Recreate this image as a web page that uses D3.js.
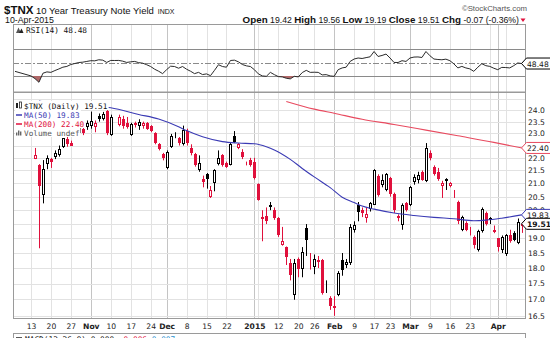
<!DOCTYPE html>
<html><head><meta charset="utf-8">
<script src="https://cdn.jsdelivr.net/npm/d3@7"></script>
<style>body{margin:0;background:#fff}svg{display:block}</style>
</head><body><svg id="c" width="550" height="338"></svg>
<script>
// ---------- DATA ----------
const days = [
"2014-10-07","2014-10-08","2014-10-09","2014-10-10","2014-10-13","2014-10-14","2014-10-15","2014-10-16","2014-10-17",
"2014-10-20","2014-10-21","2014-10-22","2014-10-23","2014-10-24","2014-10-27","2014-10-28","2014-10-29","2014-10-30","2014-10-31",
"2014-11-03","2014-11-04","2014-11-05","2014-11-06","2014-11-07","2014-11-10","2014-11-11","2014-11-12","2014-11-13","2014-11-14",
"2014-11-17","2014-11-18","2014-11-19","2014-11-20","2014-11-21","2014-11-24","2014-11-25","2014-11-26","2014-11-28",
"2014-12-01","2014-12-02","2014-12-03","2014-12-04","2014-12-05","2014-12-08","2014-12-09","2014-12-10","2014-12-11","2014-12-12",
"2014-12-15","2014-12-16","2014-12-17","2014-12-18","2014-12-19","2014-12-22","2014-12-23","2014-12-24","2014-12-26",
"2014-12-29","2014-12-30","2014-12-31","2015-01-02","2015-01-05","2015-01-06","2015-01-07","2015-01-08","2015-01-09",
"2015-01-12","2015-01-13","2015-01-14","2015-01-15","2015-01-16","2015-01-20","2015-01-21","2015-01-22","2015-01-23",
"2015-01-26","2015-01-27","2015-01-28","2015-01-29","2015-01-30","2015-02-02","2015-02-03","2015-02-04","2015-02-05","2015-02-06",
"2015-02-09","2015-02-10","2015-02-11","2015-02-12","2015-02-13","2015-02-17","2015-02-18","2015-02-19","2015-02-20",
"2015-02-23","2015-02-24","2015-02-25","2015-02-26","2015-02-27","2015-03-02","2015-03-03","2015-03-04","2015-03-05","2015-03-06",
"2015-03-09","2015-03-10","2015-03-11","2015-03-12","2015-03-13","2015-03-16","2015-03-17","2015-03-18","2015-03-19","2015-03-20",
"2015-03-23","2015-03-24","2015-03-25","2015-03-26","2015-03-27","2015-03-30","2015-03-31","2015-04-01","2015-04-02",
"2015-04-06","2015-04-07","2015-04-08","2015-04-09","2015-04-10"];

const candleStart = "2014-10-14";
const priorClose = 22.8;
const open = [21.95,21.7,20.56,21.74,21.95,22.05,22.1,22.45,22.75,22.62,
22.93,23.0,23.2,23.28, 23.3,23.25,23.75,23.6,23.95, 22.95,23.72,23.35,23.6,23.45,
22.95,23.42,23.3,23.3,23.42, 23.3,23.0,22.55,22.15, 21.6,22.45,22.88,22.8,22.55,
23.1,22.4,22.15,21.5,21.15, 21.35,20.5,21.0,21.75,22.1, 21.8,21.7,22.9,22.4,
22.25,21.85,21.9, 21.85, 20.98,19.75,19.78,20.1,20.0, 19.7,18.78,18.7,18.15,17.14,
18.3,17.98,19.35,18.3, 18.05,18.2,18.27,17.47,17.05, 16.8,17.14,18.25,18.1,18.15,
19.3,20.2,20.0,19.72,20.05, 20.2,21.3,20.95,20.75, 21.2,20.6,19.8,19.47,20.25,
20.2,21.05,21.12,21.45,21.1, 22.2,21.65,21.45,20.9,21.1, 20.9,20.55,20.3,19.3,19.55,
19.3,19.05,18.6,19.25,19.88, 19.7,19.3, 19.0,18.6, 18.45,19.1,19.2,18.85,19.42];
const high = [22.4,21.75,21.91,22.1,22.0,22.3,22.5,22.8,22.85,22.7,
23.25,23.64,23.35,23.55, 23.93,23.55,23.85,23.92,24.0, 23.8,23.72,23.8,23.75,23.7,
23.45,23.5,23.6,23.5,23.48, 23.35,23.05,22.6,22.2, 22.3,22.98,23.05,22.85,23.33,
23.2,22.55,22.2,22.1,21.3, 21.4,20.9,21.55,22.3,22.15, 21.85,22.6,23.1,22.6,
22.35,21.85,22.0, 22.0, 21.0,20.0,20.1,20.3,20.1, 19.75,19.4,18.72,18.3,18.3,
18.35,18.7,19.5,18.5, 18.45,18.4,18.3,17.6,17.1, 17.1,17.9,18.5,18.3,19.5,
19.6,20.3,20.1,20.1,20.3, 21.55,21.35,21.35,21.4, 21.25,20.65,19.85,20.25,20.3,
20.9,21.35,21.45,21.5,22.6, 22.3,21.7,21.6,21.1,21.2, 21.05,20.75,20.35,19.8,19.6,
19.4,19.1,19.3,20.1,19.95, 19.75,19.45, 19.0,19.1, 19.15,19.3,19.25,19.7,19.56];
const low = [21.95,18.66,20.25,21.55,21.6,21.95,22.05,22.4,22.45,22.5,
22.9,22.93,22.93,23.15, 23.2,23.05,23.5,23.55,22.93, 22.9,23.72,23.3,23.2,23.2,
22.9,23.25,23.15,23.2,23.15, 23.05,22.55,22.3,21.9, 21.55,22.4,22.8,22.5,22.5,
22.5,22.1,21.65,21.45,20.85, 20.8,20.45,20.7,21.7,21.65, 21.6,21.7,22.6,22.35,
21.95,21.7,21.65, 21.15, 20.35,18.9,19.5,20.0,19.65, 19.05,18.75,18.1,17.6,16.99,
17.7,17.7,18.4,17.95, 17.8,18.0,17.15,17.2,16.68, 16.5,17.1,17.75,18.0,18.1,
19.2,19.6,19.75,19.55,19.95, 20.2,20.5,20.85,20.7, 20.5,19.9,19.6,19.3,19.95,
20.15,20.95,21.0,21.1,21.05, 21.9,21.3,21.1,20.45,20.75, 20.85,20.45,19.5,19.25,19.25,
19.1,18.65,18.55,19.2,19.45, 19.5,19.18, 18.55,18.5, 18.4,18.85,18.9,18.8,19.19];
const close = [22.1,20.91,21.55,22.0,21.85,22.18,22.35,22.79,22.55,22.5,
23.21,23.28,23.02,23.42, 23.53,23.45,23.6,23.85,23.0, 23.72,23.72,23.68,23.3,23.25,
23.4,23.35,23.5,23.42,23.2, 23.1,22.6,22.35,21.98, 22.25,22.9,22.95,22.6,23.15,
22.6,22.2,21.7,21.78,21.05, 21.15,20.75,21.5,22.0,21.7, 21.65,22.55,22.65,22.55,
22.05,21.8,21.7, 21.2, 20.37,19.68,19.6,20.2,19.7, 19.1,18.92,18.37,17.78,18.15,
17.98,18.55,18.95,18.25, 18.3,18.28,17.2,17.52,16.8, 16.75,17.83,17.95,18.2,19.4,
19.47,19.93,19.88,19.85,20.25, 21.5,20.56,21.13,21.35, 20.6,20.0,19.7,20.2,20.0,
20.87,21.25,21.32,21.12,22.4, 21.98,21.35,21.15,21.0,21.15, 21.0,20.6,19.6,19.75,19.3,
19.25,18.77,19.25,20.05,19.5, 19.65,19.22, 18.7,19.05, 19.12,18.9,18.95,19.58,19.51];

const ma50Dates = ["2014-10-15","2014-10-17","2014-11-10","2014-11-19","2014-11-26","2014-12-04","2014-12-08","2014-12-12","2014-12-19","2014-12-26","2015-01-02","2015-01-07","2015-01-09","2015-01-15","2015-01-21","2015-01-26","2015-01-30","2015-02-04","2015-02-09","2015-02-11","2015-02-17","2015-02-24","2015-03-03","2015-03-10","2015-03-17","2015-03-24","2015-03-27","2015-04-02","2015-04-10"];
const ma50Values = [24.40,24.34,24.10,23.81,23.61,23.28,23.12,22.86,22.66,22.60,22.57,22.45,22.32,21.94,21.58,21.25,20.84,20.48,20.28,20.15,20.04,19.90,19.81,19.74,19.69,19.62,19.64,19.71,19.83];
const ma200Dates = ["2015-01-14","2015-01-26","2015-02-02","2015-02-11","2015-02-24","2015-03-06","2015-03-18","2015-03-31","2015-04-10"];
const ma200Values = [24.38,24.04,23.86,23.60,23.38,23.14,22.90,22.63,22.40];

const rsiDates = ["2014-10-07","2014-10-13","2014-10-14","2014-10-15","2014-10-16","2014-10-17","2014-10-20","2014-10-21","2014-10-22","2014-10-23","2014-10-24","2014-10-27","2014-10-28","2014-10-29","2014-10-30","2014-10-31",
"2014-11-03","2014-11-04","2014-11-05","2014-11-06","2014-11-07","2014-11-10","2014-11-11","2014-11-12","2014-11-13","2014-11-14","2014-11-17","2014-11-18","2014-11-19","2014-11-20","2014-11-21","2014-11-24","2014-11-25","2014-11-26","2014-11-28",
"2014-12-01","2014-12-02","2014-12-03","2014-12-04","2014-12-05","2014-12-08","2014-12-09","2014-12-10","2014-12-11","2014-12-12","2014-12-15","2014-12-16","2014-12-17","2014-12-18","2014-12-19","2014-12-22","2014-12-23","2014-12-24","2014-12-26","2014-12-29","2014-12-30","2014-12-31",
"2015-01-02","2015-01-05","2015-01-06","2015-01-07","2015-01-08","2015-01-09","2015-01-12","2015-01-13","2015-01-14","2015-01-15","2015-01-16","2015-01-20","2015-01-21","2015-01-22","2015-01-23","2015-01-26","2015-01-27","2015-01-28","2015-01-29","2015-01-30",
"2015-02-02","2015-02-03","2015-02-04","2015-02-05","2015-02-06","2015-02-09","2015-02-10","2015-02-11","2015-02-12","2015-02-13","2015-02-17","2015-02-18","2015-02-19","2015-02-20","2015-02-23","2015-02-24","2015-02-25","2015-02-26","2015-02-27",
"2015-03-02","2015-03-03","2015-03-04","2015-03-05","2015-03-06","2015-03-09","2015-03-10","2015-03-11","2015-03-12","2015-03-13","2015-03-16","2015-03-17","2015-03-18","2015-03-19","2015-03-20","2015-03-23","2015-03-24","2015-03-25","2015-03-26","2015-03-27","2015-03-30","2015-03-31",
"2015-04-01","2015-04-02","2015-04-06","2015-04-07","2015-04-08","2015-04-09","2015-04-10"];
const rsiValues = [36.8,30,26,20.5,34,36,35.3,38,40.4,43,44.2,47,48.5,50,50.5,51.6,
52.7,52.5,54.1,53.5,50.1,53.1,53,53.1,52,50.1,51,51.6,49.8,49,46.7,44,40,37,33.4,
39.3,44.5,44,41.5,44,40,37,33.4,35.3,32,33,30.4,38.3,46.7,44,43,53,53.5,51,47,45,44,
39.3,33,30,29.4,35.3,31.9,29,28.5,26.5,25.6,29.4,28.5,35,38.3,35.3,35.5,35.3,31.5,31.9,30,
29.4,39.3,41.9,43,51.6,55.2,56.7,56,57.3,58.5,66.4,59,60.5,62.6,56.7,50.1,50,52.7,51.6,
56.7,58.1,58.3,57.5,66.4,60.1,55.2,54.5,54.1,55,52.7,48,41.9,44.2,41.9,40.5,36.8,43,48.2,45.3,44.2,41.5,
39.3,42.7,42.5,41.9,45.3,49.3,48.48];

const priceTicks = [24.0,23.5,23.0,22.5,22.0,21.5,21.0,20.5,20.0,19.5,19.0,18.5,18.0,17.5,17.0,16.5];
const priceGrid = [24.5,24.0,23.5,23.0,22.5,22.0,21.5,21.0,20.5,20.0,19.5,19.0,18.5,18.0,17.5,17.0,16.5];
const rsiTicks = [90,70,30,10];
const xTickDates = ["2014-10-13","2014-10-20","2014-10-27","2014-11-03","2014-11-10","2014-11-17","2014-11-24","2014-12-01","2014-12-08","2014-12-15","2014-12-22","2015-01-02","2015-01-12","2015-01-20","2015-01-26","2015-02-02","2015-02-09","2015-02-17","2015-02-23","2015-03-02","2015-03-09","2015-03-16","2015-03-23","2015-04-01"];
const xTickLabels = ["13","20","27","Nov","10","17","24","Dec","8","15","22","2015","12","20","26","Feb","9","17","23","Mar","9","16","23","Apr"];
const monthDates = ["2014-11-03","2014-12-01","2015-01-02","2015-02-02","2015-03-02","2015-04-01"];
const extraGridDates = ["2015-01-05","2015-03-30","2015-04-06"];

// ---------- LAYOUT ----------
const svg = d3.select("#c");
const L = 13, R = 526;
const rsiTop = 24.5, rsiBot = 92, mainTop = 92.5, mainBot = 318.5;
const RED = "#e0103c", BLUE = "#3a3ab4", MARED = "#e84a5f";
const x = d3.scalePoint().domain(days).range([15, 521.7]);
const y = d3.scaleLog().domain([16.42, 24.78]).range([mainBot, mainTop]);
const yR = d3.scaleLinear().domain([6, 106.7]).range([rsiBot, rsiTop]);
const px = v => Math.round(v) + 0.5;

svg.append("rect").attr("width",550).attr("height",338).attr("fill","#fff");

const defs = svg.append("defs");
defs.append("clipPath").attr("id","cm").append("rect").attr("x",L).attr("y",mainTop).attr("width",R-L).attr("height",mainBot-mainTop);
defs.append("clipPath").attr("id","cr").append("rect").attr("x",L).attr("y",rsiTop).attr("width",R-L).attr("height",rsiBot-rsiTop);
defs.append("clipPath").attr("id","cr30").append("rect").attr("x",L).attr("y",yR(30)).attr("width",R-L).attr("height",rsiBot-yR(30));
defs.append("clipPath").attr("id","crl").append("rect").attr("x",R).attr("y",rsiTop).attr("width",30).attr("height",rsiBot-rsiTop+0.5);

// ---------- GRID ----------
const gridAll = xTickDates.concat(extraGridDates);
function vgrid(top, bot){
  svg.append("g").selectAll("line").data(gridAll).join("line")
    .attr("x1",d=>px(x(d))).attr("x2",d=>px(x(d))).attr("y1",top).attr("y2",bot)
    .attr("stroke",d=>monthDates.includes(d)?"#c4c4c4":"#e2e2e2").attr("stroke-width",1);
}
vgrid(rsiTop, rsiBot); vgrid(mainTop, mainBot);
svg.append("g").selectAll("line").data(priceGrid).join("line")
  .attr("x1",L).attr("x2",R).attr("y1",d=>px(y(d))).attr("y2",d=>px(y(d)))
  .attr("stroke","#e2e2e2");
[70,30].forEach(v=>svg.append("line").attr("x1",L).attr("x2",R).attr("y1",px(yR(v))).attr("y2",px(yR(v))).attr("stroke","#8a8a8a"));
svg.append("line").attr("x1",L).attr("x2",R).attr("y1",px(yR(50))).attr("y2",px(yR(50)))
  .attr("stroke","#8a8a8a").attr("stroke-dasharray","6,2,2,2");

// ---------- RSI ----------
const rsiPts = rsiDates.map((d,i)=>({d, v:rsiValues[i]}));
svg.append("path").datum(rsiPts).attr("clip-path","url(#cr30)")
  .attr("d", d3.area().x(p=>x(p.d)).y0(yR(30)).y1(p=>yR(p.v)))
  .attr("fill","#b06868");
svg.append("path").datum(rsiPts).attr("clip-path","url(#cr)")
  .attr("d", d3.line().x(p=>x(p.d)).y(p=>yR(p.v)))
  .attr("fill","none").attr("stroke","#2a2a2a").attr("stroke-width",1);

// ---------- CANDLES ----------
const cDays = days.slice(days.indexOf(candleStart));
const candles = cDays.map((d,i)=>({d,o:open[i],h:high[i],l:low[i],c:close[i],pc:i?close[i-1]:priorClose}));
const cg = svg.append("g").attr("clip-path","url(#cm)");
candles.forEach(k=>{
  const col = k.c < k.pc ? RED : "#000";
  const hollow = k.c >= k.o;
  const cx = px(x(k.d));
  cg.append("line").attr("x1",cx).attr("x2",cx).attr("y1",y(k.h)).attr("y2",y(k.l)).attr("stroke",col);
  const top = Math.round(y(Math.max(k.o,k.c))), bot = Math.round(y(Math.min(k.o,k.c)));
  cg.append("rect").attr("x",cx-1).attr("y",top+0.5).attr("width",2).attr("height",Math.max(0,bot-top-1))
    .attr("fill",hollow?"#fff":col).attr("stroke",col);
});

// ---------- MOVING AVERAGES ----------
const line = d3.line().x(p=>x(p.d)).y(p=>y(p.v)).curve(d3.curveMonotoneX);
svg.append("path").datum(ma200Dates.map((d,i)=>({d,v:ma200Values[i]}))).attr("clip-path","url(#cm)")
  .attr("d",line).attr("fill","none").attr("stroke",MARED).attr("stroke-width",1.1);
svg.append("path").datum(ma50Dates.map((d,i)=>({d,v:ma50Values[i]}))).attr("clip-path","url(#cm)")
  .attr("d",line).attr("fill","none").attr("stroke",BLUE).attr("stroke-width",1.1);

// ---------- PANEL BORDERS ----------
svg.append("rect").attr("x",L+0.5).attr("y",rsiTop).attr("width",R-L-1).attr("height",rsiBot-rsiTop).attr("fill","none").attr("stroke","#9a9a9a");
svg.append("rect").attr("x",L+0.5).attr("y",mainTop).attr("width",R-L-1).attr("height",mainBot-mainTop).attr("fill","none").attr("stroke","#9a9a9a");
svg.append("line").attr("x1",L).attr("x2",R).attr("y1",333.5).attr("y2",333.5).attr("stroke","#9a9a9a");
svg.append("line").attr("x1",L+0.5).attr("x2",L+0.5).attr("y1",333.5).attr("y2",338).attr("stroke","#9a9a9a");
svg.append("line").attr("x1",R-0.5).attr("x2",R-0.5).attr("y1",333.5).attr("y2",338).attr("stroke","#9a9a9a");

// ---------- AXES ----------
const axFont = "'DejaVu Sans', Verdana, sans-serif";
const yAx = svg.append("g").attr("transform",`translate(${R+1},0)`)
  .call(d3.axisRight(y).tickValues(priceTicks).tickFormat(d3.format(".1f")).tickSize(0).tickPadding(1));
yAx.select(".domain").remove();
yAx.selectAll("text").attr("font-family",axFont).attr("font-size",7.6).attr("fill","#222");
const rAx = svg.append("g").attr("transform",`translate(${R+1},0)`).attr("clip-path","url(#crl)")
  .call(d3.axisRight(yR).tickValues(rsiTicks).tickSize(0).tickPadding(1));
rAx.select(".domain").remove();
rAx.selectAll("text").attr("font-family",axFont).attr("font-size",7.6).attr("fill","#222");
const xAx = svg.append("g").attr("transform",`translate(0,${mainBot})`)
  .call(d3.axisBottom(x).tickValues(xTickDates).tickFormat((d,i)=>xTickLabels[i]).tickSize(0).tickPadding(5));
xAx.select(".domain").remove();
xAx.selectAll("text").attr("font-family",axFont).attr("font-size",7.6).attr("fill","#222")
  .attr("font-weight",d=>monthDates.includes(d)?"bold":"normal");

// ---------- VALUE TAGS ----------
function tag(yc, txt, col, bold){
  const x0 = R - 4.5, w = 29;
  svg.append("path").attr("d",`M${x0},${yc} L${x0+5},${yc-5.5} L${x0+w},${yc-5.5} L${x0+w},${yc+5.5} L${x0+5},${yc+5.5} Z`)
    .attr("fill","#fff").attr("stroke",col).attr("stroke-width",1);
  svg.append("text").attr("x",x0+5.5).attr("y",yc+3).text(txt)
    .attr("font-family",axFont).attr("font-size",7.6).attr("fill","#111").attr("font-weight",bold?"bold":"normal");
}
tag(y(ma200Values[ma200Values.length-1]), "22.40", MARED, false);
tag(y(ma50Values[ma50Values.length-1]), "19.83", BLUE, false);
tag(y(close[close.length-1]), "19.51", "#000", true);
tag(yR(rsiValues[rsiValues.length-1]), "48.48", "#000", false);

// ---------- LEGENDS ----------
const mono = "'DejaVu Sans Mono', monospace";
function legendRow(yc, txt, col, iconType){
  const t = svg.append("text").attr("x",24).attr("y",yc+3).text(txt)
    .attr("font-family",mono).attr("font-size",7.7).attr("fill",col);
  const bb = t.node().getBBox();
  svg.insert("rect", function(){return t.node();}).attr("x",15).attr("y",yc-4.5).attr("width",bb.x+bb.width-15+1).attr("height",9).attr("fill","#fff");
  if(iconType==="dash") svg.append("line").attr("x1",16).attr("x2",22).attr("y1",yc+0.5).attr("y2",yc+0.5).attr("stroke",col).attr("stroke-width",1.5);
  if(iconType==="candle"){
    svg.append("rect").attr("x",16).attr("y",yc-2.5).attr("width",2).attr("height",5).attr("fill","#222");
    svg.append("rect").attr("x",19.5).attr("y",yc-3.5).attr("width",2).attr("height",6).attr("fill","#fff").attr("stroke","#222").attr("stroke-width",0.8);
  }
  if(iconType==="vol"){
    [[16,3],[18,5],[20,4]].forEach(([a,h])=>svg.append("rect").attr("x",a).attr("y",yc+3-h).attr("width",1.4).attr("height",h).attr("fill","#666"));
  }
}
legendRow(105.5, "$TNX (Daily) 19.51", "#111", "candle");
legendRow(114.5, "MA(50) 19.83", BLUE, "dash");
legendRow(123.5, "MA(200) 22.40", RED, "dash");
legendRow(132.5, "Volume undef", "#555", "vol");

// RSI legend
svg.append("path").attr("d","M16,33 L18.5,27.5 L21,33 Z").attr("fill","#555");
svg.append("path").attr("d","M19,33 L21.5,28.5 L23.5,33 Z").attr("fill","#222");
svg.append("text").attr("x",26).attr("y",33).text("RSI(14) 48.48")
  .attr("font-family",mono).attr("font-size",7.8).attr("fill","#111");

// ---------- HEADER ----------
const sans = "'Liberation Sans', Arial, sans-serif";
const h = svg.append("text").attr("x",4).attr("y",14).attr("font-family",sans).attr("fill","#111");
h.append("tspan").text("$TNX").attr("font-weight","bold").attr("font-size",11.5);
h.append("tspan").text(" 10 Year Treasury Note Yield").attr("font-size",9.5);
h.append("tspan").text(" INDX").attr("font-size",7).attr("dx",2);
svg.append("text").attr("x",5).attr("y",23).text("10-Apr-2015").attr("font-family",sans).attr("font-size",8.8).attr("fill","#111");
svg.append("text").attr("x",527).attr("y",11).attr("text-anchor","end").text("\u00A9StockCharts.com")
  .attr("font-family",sans).attr("font-size",7.8).attr("fill","#555");
const q = svg.append("text").attr("x",519).attr("y",23).attr("text-anchor","end").attr("font-family",sans).attr("fill","#111");
[["Open",1],[" 19.42 ",0],["High",1],[" 19.56 ",0],["Low",1],[" 19.19 ",0],["Close",1],[" 19.51 ",0],["Chg",1],[" -0.07 (-0.36%)",0]]
  .forEach(([t,b])=>q.append("tspan").text(t).attr("font-weight",b?"bold":"normal").attr("font-size",b?9.8:8.7));
svg.append("path").attr("d","M520.5,18.5 L525.5,18.5 L523,22 Z").attr("fill",RED);

// ---------- MACD (cut off by the picture's edge, as in the reference) ----------
svg.append("line").attr("x1",16).attr("x2",22).attr("y1",338).attr("y2",338).attr("stroke","#222").attr("stroke-width",1.5);
const m = svg.append("text").attr("x",25).attr("y",342).attr("font-family",mono).attr("font-size",7.8).attr("fill","#111");
m.append("tspan").text("MACD(12,26,9) 0.000 ");
m.append("tspan").text("-0.006 ").attr("fill",RED);
m.append("tspan").text("0.007").attr("fill","#1f8fd0");
</script></body></html>
